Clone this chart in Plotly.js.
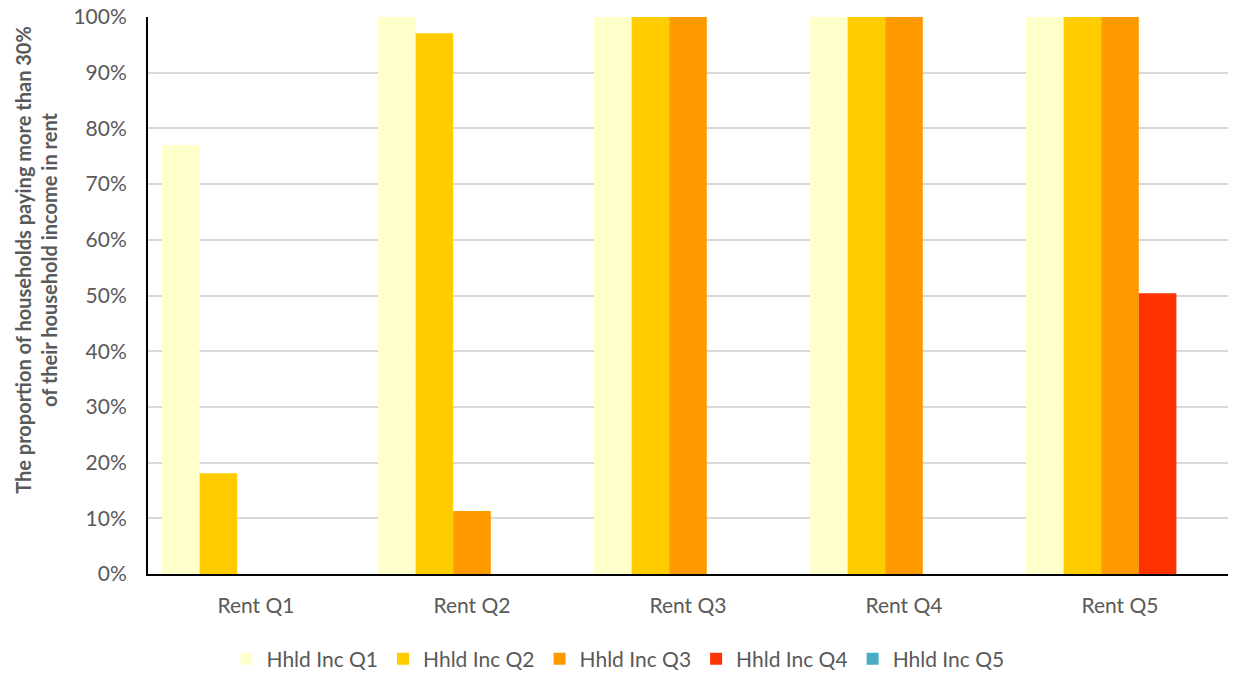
<!DOCTYPE html>
<html>
<head>
<meta charset="utf-8">
<script src="https://cdn.plot.ly/plotly-3.0.1.min.js"></script>
<style>html,body{margin:0;padding:0;background:#fff;}#chart{width:1236px;height:673px;}</style>
</head>
<body>
<div id="chart"></div>
<script>
const categories = ["Rent Q1", "Rent Q2", "Rent Q3", "Rent Q4", "Rent Q5"];
const seriesNames = ["Hhld Inc Q1", "Hhld Inc Q2", "Hhld Inc Q3", "Hhld Inc Q4", "Hhld Inc Q5"];
const incQ1 = [0.77, 1.00, 1.00, 1.00, 1.00];
const incQ2 = [0.181, 0.971, 1.00, 1.00, 1.00];
const incQ3 = [0, 0.113, 1.00, 1.00, 1.00];
const incQ4 = [0, 0, 0, 0, 0.504];
const incQ5 = [0, 0, 0, 0, 0];
const tickVals = [0, 0.1, 0.2, 0.3, 0.4, 0.5, 0.6, 0.7, 0.8, 0.9, 1.0];
const tickText = ["0%", "10%", "20%", "30%", "40%", "50%", "60%", "70%", "80%", "90%", "100%"];
const yTitle = "<b>The proportion of households paying more than 30%<br>of their household income in rent</b>";
const colors = ["#FFFFCC", "#FFCC00", "#FF9900", "#FF3300", "#4BACC6"];

const seriesValues = [incQ1, incQ2, incQ3, incQ4, incQ5];
const traces = seriesValues.map((vals, i) => ({
  type: "bar",
  name: seriesNames[i],
  x: categories,
  y: vals,
  marker: {color: colors[i]},
  hoverinfo: "x+y+name"
}));

const font = "Lato, 'Open Sans', sans-serif";
const layout = {
  width: 1236, height: 673,
  margin: {l: 148, r: 8, t: 17, b: 99, autoexpand: false},
  paper_bgcolor: "#fff", plot_bgcolor: "#fff",
  barmode: "group", bargap: 0.13, bargroupgap: 0,
  font: {family: font, color: "#595959", size: 20},
  xaxis: {
    showline: true, linecolor: "#000", linewidth: 2,
    showgrid: false, ticks: "", tickfont: {size: 21, color: "#595959"},
    ticklabelstandoff: 12,
    automargin: false,
    fixedrange: true
  },
  yaxis: {
    range: [0, 1], tickvals: tickVals, ticktext: tickText,
    showline: true, linecolor: "#000", linewidth: 2,
    showgrid: true, gridcolor: "#D9D9D9", gridwidth: 1.5,
    ticks: "", tickfont: {size: 21, color: "#595959"},
    ticklabelstandoff: 15,
    zeroline: false, automargin: false,
    fixedrange: true
  },
  annotations: [{
    text: yTitle, textangle: -90, showarrow: false,
    xref: "paper", yref: "paper", x: -0.1037, y: 0.564,
    xanchor: "center", yanchor: "middle",
    font: {size: 20, color: "#595959", family: font}
  }],
  legend: {
    orientation: "h", x: 0.5, xanchor: "center", xref: "container",
    y: 14 / 673, yanchor: "middle", yref: "container",
    font: {size: 21, color: "#595959"}, itemwidth: 30, traceorder: "normal"
  },
  showlegend: true
};

Plotly.newPlot("chart", traces, layout, {displayModeBar: false});
</script>
</body>
</html>
